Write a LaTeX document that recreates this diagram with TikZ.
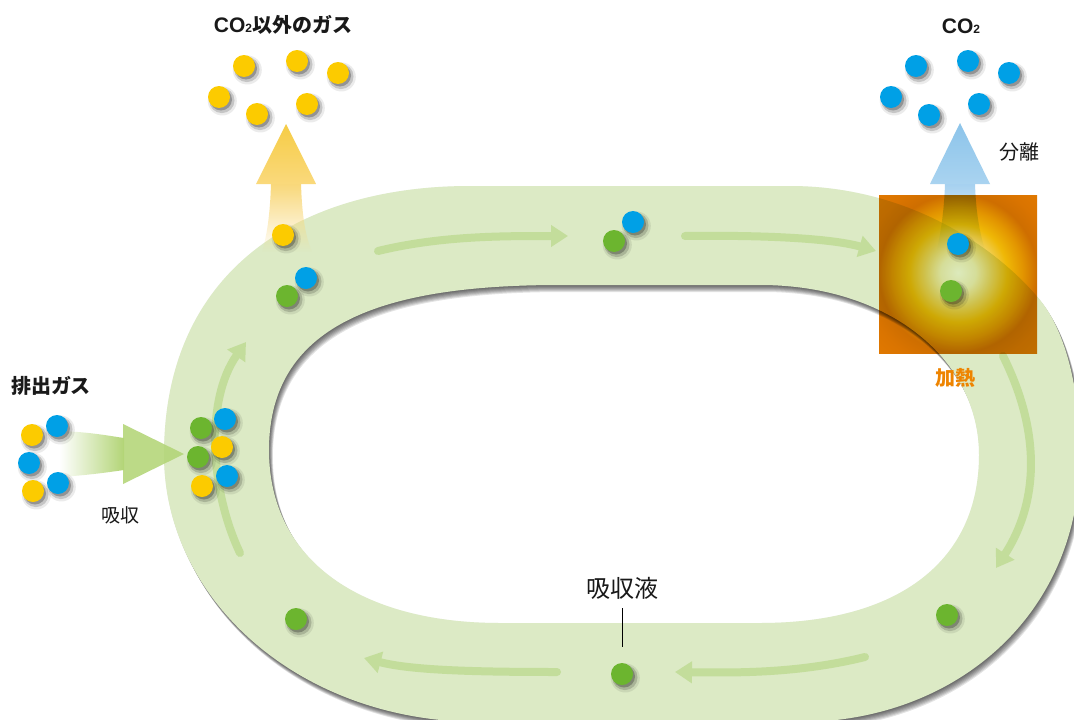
\documentclass[tikz,border=0pt]{standalone}
\usepackage{fontspec}
\newfontfamily\jp{Noto Sans CJK JP}
\newfontfamily\lat{Liberation Sans}
\usetikzlibrary{arrows.meta,shadows,fadings}

% palette
\definecolor{bandgreen}{HTML}{DCEAC5}
\definecolor{flowgreen}{HTML}{C3DD9B}
\definecolor{inflowgreen}{HTML}{B3D577}
\definecolor{dotyellow}{HTML}{FCCB00}
\definecolor{dotblue}{HTML}{00A0E6}
\definecolor{dotgreen}{HTML}{6CB52F}
\definecolor{heattext}{HTML}{EE8400}
\definecolor{yarrowtop}{HTML}{F6CC45}
\definecolor{yarrowbot}{HTML}{FAD97C}
\definecolor{yshaft}{HTML}{F9D87A}
\definecolor{barrowtop}{HTML}{8CC4EA}
\definecolor{barrowbot}{HTML}{A9D3F0}
\definecolor{bshaft}{HTML}{A6D1F0}
% heater glow, from the centre outwards
\definecolor{hc0}{HTML}{FFFFF4}
\definecolor{hc1}{HTML}{F8F2C8}
\definecolor{hc2}{HTML}{F0D466}
\definecolor{hc3}{HTML}{EFB806}
\definecolor{hc4}{HTML}{E29400}
\definecolor{hc5}{HTML}{CE6E00}
\definecolor{hc6}{HTML}{DA7400}
\definecolor{hc7}{HTML}{E07800}
\pgfdeclareradialshading{heatglow}{\pgfpoint{0bp}{0.5bp}}{%
  color(0bp)=(hc0); color(5.5bp)=(hc1); color(10.5bp)=(hc2); color(15.5bp)=(hc3);
  color(20.5bp)=(hc4); color(25bp)=(hc5); color(30bp)=(hc6); color(35bp)=(hc7);
  color(50bp)=(hc7)}

% the absorbent loop: outer rim and inner hole
\newcommand\ringpath{%
  (470,186) -- (790,186)
  .. controls (900,186) and (990,240) .. (1040,300)
  .. controls (1066,332) and (1080,390) .. (1080,455)
  .. controls (1080,620) and (950,722) .. (800,722)
  -- (480,722)
  .. controls (300,722) and (164,600) .. (164,455)
  .. controls (164,270) and (300,186) .. (470,186) -- cycle
  (560,285) -- (760,285)
  .. controls (890,285) and (979,360) .. (979,455)
  .. controls (979,560) and (900,623) .. (760,623)
  -- (500,623)
  .. controls (360,623) and (269,560) .. (269,450)
  .. controls (269,320) and (390,285) .. (560,285) -- cycle}

\newcommand\cotwo{{\lat\bfseries\fontsize{21}{24}\selectfont CO\fontsize{12}{14}\selectfont 2}}

\tikzset{
  ball/.style={circle, inner sep=0pt, minimum size=22pt, fill=#1,
    general shadow={fill=black, opacity=0.08, shadow scale=1.32, shadow xshift=2.5pt, shadow yshift=-3pt},
    general shadow={fill=black, opacity=0.16, shadow scale=1.15, shadow xshift=2.5pt, shadow yshift=-3pt},
    general shadow={fill=black, opacity=0.25, shadow scale=1.0, shadow xshift=2pt, shadow yshift=-2.5pt}},
  flow/.style={draw=flowgreen, line width=8pt, line cap=round,
    -{Triangle[width=21pt,length=17pt]}},
  boldlabel/.style={font=\jp\bfseries\fontsize{20}{24}\selectfont, text=black!90, inner sep=0pt},
  plainlabel/.style={font=\jp\fontsize{19}{23}\selectfont, text=black!90, inner sep=0pt},
  heater/.style={rectangle, inner sep=0pt, minimum width=158pt, minimum height=158pt,
    shade, shading=heatglow},
}

\begin{document}
\begin{tikzpicture}[x=1pt,y=-1pt]
\useasboundingbox (0,0) rectangle (1074,720);
\clip (0,0) rectangle (1074,720);
\fill[white] (0,0) rectangle (1074,720);

% soft drop shadow of the loop, built from stacked offset copies
\fill[black, opacity=0.03, even odd rule] \ringpath;
\foreach \s in {1,...,7}{
  \begin{scope}[shift={(0.55*\s pt,-\s pt)}]
    \fill[black, opacity=0.11, even odd rule] \ringpath;
  \end{scope}
}
% the loop itself
\fill[bandgreen, even odd rule] \ringpath;

% circulation arrows inside the loop
\coordinate (f1a) at (378,251);  \coordinate (f1b) at (568,236);
\coordinate (f2a) at (685,236);  \coordinate (f2b) at (876,251);
\coordinate (f3a) at (1003,356); \coordinate (f3b) at (996,568);
\coordinate (f4a) at (865,657);  \coordinate (f4b) at (675,672);
\coordinate (f5a) at (557,672);  \coordinate (f5b) at (364,658);
\coordinate (f6a) at (240,553);  \coordinate (f6b) at (246,342);
\draw[flow] (f1a) .. controls (440,236) and (500,236) .. (f1b);
\draw[flow] (f2a) .. controls (760,235) and (830,238) .. (f2b);
\draw[flow] (f3a) .. controls (1040,430) and (1040,500) .. (f3b);
\draw[flow] (f4a) .. controls (800,673) and (740,673) .. (f4b);
\draw[flow] (f5a) .. controls (470,672) and (410,670) .. (f5b);
\draw[flow] (f6a) .. controls (210,490) and (205,400) .. (f6b);

% yellow release arrow (gases other than CO2)
\fill[yshaft, path fading=south]
  (271,184) -- (301,184) .. controls (302,215) and (305,235) .. (312,252)
  -- (262,252) .. controls (267,235) and (270,215) .. (271,184) -- cycle;
\shade[top color=yarrowtop, bottom color=yarrowbot]
  (256,184) -- (286,124) -- (316,184) -- cycle;

% blue release arrow (CO2)
\fill[bshaft, path fading=south]
  (945,184) -- (975,184) .. controls (976,212) and (979,230) .. (985,250)
  -- (937,250) .. controls (941,230) and (944,212) .. (945,184) -- cycle;
\shade[top color=barrowtop, bottom color=barrowbot]
  (930,184) -- (960,123) -- (990,184) -- cycle;

% heater
\begin{scope}[blend mode=multiply]
  \node[heater] (heat) at (958,274) {};
\end{scope}

% exhaust gas inflow arrow
\fill[inflowgreen, path fading=west]
  (60,431) .. controls (90,432) and (110,436) .. (124,438)
  -- (124,470) .. controls (110,472) and (90,475) .. (60,477) -- cycle;
\fill[inflowgreen, opacity=0.88] (123,424) -- (184,454) -- (123,484) -- cycle;

% gases other than CO2
\node[ball=dotyellow] (oy1) at (244,66) {};
\node[ball=dotyellow] (oy2) at (297,61) {};
\node[ball=dotyellow] (oy3) at (338,73) {};
\node[ball=dotyellow] (oy4) at (219,97) {};
\node[ball=dotyellow] (oy5) at (257,114) {};
\node[ball=dotyellow] (oy6) at (307,104) {};
\node[ball=dotyellow] (oyr) at (283,235) {};

% separated CO2
\node[ball=dotblue] (cb1) at (916,66) {};
\node[ball=dotblue] (cb2) at (968,61) {};
\node[ball=dotblue] (cb3) at (1009,73) {};
\node[ball=dotblue] (cb4) at (891,97) {};
\node[ball=dotblue] (cb5) at (929,115) {};
\node[ball=dotblue] (cb6) at (979,104) {};

% incoming exhaust gas
\node[ball=dotyellow] (ey1) at (32,435) {};
\node[ball=dotblue]   (eb1) at (57,426) {};
\node[ball=dotblue]   (eb2) at (29,463) {};
\node[ball=dotyellow] (ey2) at (33,491) {};
\node[ball=dotblue]   (eb3) at (58,483) {};

% absorption zone
\node[ball=dotgreen]  (ag1) at (201,428) {};
\node[ball=dotgreen]  (ag2) at (198,457) {};
\node[ball=dotblue]   (ab1) at (225,419) {};
\node[ball=dotyellow] (ay1) at (222,447) {};
\node[ball=dotblue]   (ab2) at (227,476) {};
\node[ball=dotyellow] (ay2) at (202,486) {};

% CO2 carried by the solution
\node[ball=dotgreen] (pg1) at (287,296) {};
\node[ball=dotblue]  (pb1) at (306,278) {};
\node[ball=dotgreen] (pg2) at (614,241) {};
\node[ball=dotblue]  (pb2) at (633,222) {};

% inside the heater
\node[ball=dotblue]  (hb) at (958,244) {};
\node[ball=dotgreen] (hg) at (951,291) {};

% regenerated solution
\node[ball=dotgreen] (rg1) at (947,615) {};
\node[ball=dotgreen] (sol) at (622,674) {};
\node[ball=dotgreen] (rg2) at (296,619) {};

% labels
\node[boldlabel] (lblOther) at (283,25) {\cotwo 以外のガス};
\node[boldlabel] (lblCO2) at (961,26) {\cotwo};
\node[boldlabel] (lblExhaust) at (51,386) {排出ガス};
\node[plainlabel] (lblAbsorb) at (120,515) {吸収};
\node[plainlabel, font=\jp\fontsize{20}{24}\selectfont] (lblSeparate) at (1019,152) {分離};
\node[boldlabel, text=heattext] (lblHeat) at (955,378) {加熱};
\node[plainlabel, font=\jp\fontsize{24}{28}\selectfont] (lblSol) at (622,588) {吸収液};
\draw[line width=1pt, shorten <=20pt, shorten >=27pt] (lblSol.center) -- (sol.center);
\end{tikzpicture}
\end{document}
